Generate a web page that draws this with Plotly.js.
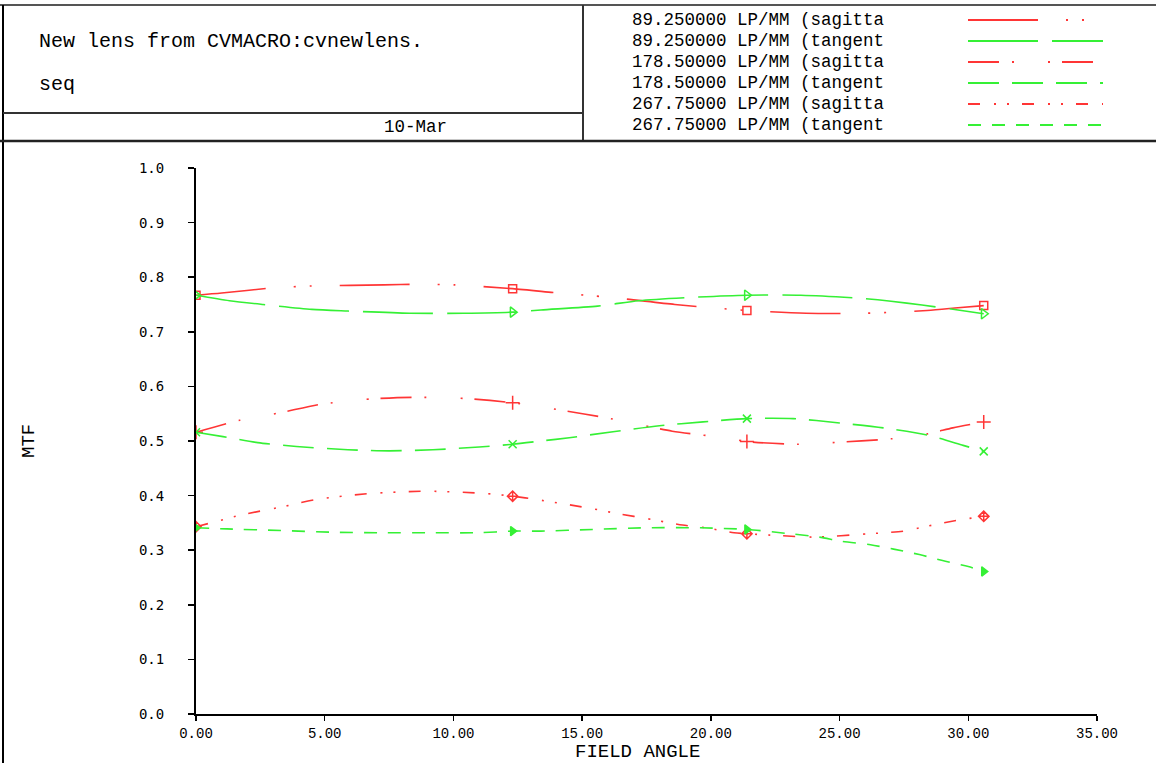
<!DOCTYPE html>
<html><head><meta charset="utf-8">
<script src="https://cdn.plot.ly/plotly-3.0.1.min.js"></script>
<style>html,body{margin:0;padding:0;background:#fff;overflow:hidden}#chart{width:1156px;height:763px}</style>
</head><body><div id="chart"></div>
<script>
// ---- data ----
const fieldX = [0, 12.3, 21.4, 30.6];

const sag89X = [0, 1.0, 2.9, 4.5, 6.0, 7.3, 8.6, 10.0, 12.3, 14.1, 15.4, 16.7, 18.6, 21.4, 23.7, 26.0, 28.4, 29.6, 30.6];
const sag89Y = [0.767, 0.771, 0.780, 0.784, 0.785, 0.786, 0.787, 0.786, 0.779, 0.771, 0.766, 0.760, 0.750, 0.739, 0.734, 0.734, 0.739, 0.744, 0.748];

const tan89X = [0, 1.3, 2.6, 4.5, 5.9, 8.3, 10.4, 12.3, 13.4, 15.6, 17.2, 19.2, 21.4, 23.5, 25.9, 27.0, 28.2, 29.6, 30.6];
const tan89Y = [0.767, 0.757, 0.750, 0.741, 0.738, 0.734, 0.734, 0.736, 0.740, 0.747, 0.757, 0.763, 0.767, 0.767, 0.761, 0.756, 0.749, 0.740, 0.733];

const sag178X = [0, 1.7, 3.3, 4.8, 6.8, 8.4, 10.4, 12.3, 14.0, 16.1, 18.5, 20.7, 21.4, 23.4, 24.7, 27.0, 28.4, 29.4, 30.6];
const sag178Y = [0.516, 0.538, 0.552, 0.567, 0.577, 0.580, 0.578, 0.570, 0.558, 0.541, 0.518, 0.505, 0.499, 0.494, 0.497, 0.504, 0.513, 0.524, 0.535];

const tan178X = [0, 1.05, 2.4, 3.9, 5.9, 7.5, 9.2, 11.0, 12.3, 13.4, 14.5, 16.2, 18.0, 19.7, 21.4, 23.2, 25.0, 26.7, 28.4, 29.8, 30.6];
const tan178Y = [0.516, 0.508, 0.497, 0.490, 0.484, 0.482, 0.484, 0.489, 0.494, 0.500, 0.506, 0.517, 0.528, 0.535, 0.541, 0.541, 0.533, 0.524, 0.511, 0.492, 0.481];

const sag267X = [0, 0.65, 1.8, 3.3, 4.7, 6.8, 9.0, 11.2, 12.3, 13.2, 15.4, 16.5, 17.5, 18.9, 19.8, 20.9, 21.4, 22.6, 24.0, 26.1, 27.5, 28.3, 29.6, 30.6];
const sag267Y = [0.343, 0.351, 0.365, 0.379, 0.393, 0.404, 0.408, 0.404, 0.399, 0.393, 0.376, 0.366, 0.358, 0.346, 0.341, 0.332, 0.330, 0.327, 0.324, 0.330, 0.335, 0.343, 0.355, 0.362];

const tan267X = [0, 1.2, 3.3, 5.2, 7.1, 9.2, 11.0, 12.3, 13.4, 15.4, 17.5, 19.6, 21.4, 23.1, 24.2, 25.1, 26.2, 27.1, 28.1, 29.0, 30.0, 30.6];
const tan267Y = [0.341, 0.339, 0.336, 0.333, 0.332, 0.332, 0.332, 0.335, 0.335, 0.338, 0.341, 0.341, 0.338, 0.330, 0.324, 0.316, 0.310, 0.302, 0.292, 0.281, 0.270, 0.261];

const legendLabels = [
  "89.250000 LP/MM (sagitta",
  "89.250000 LP/MM (tangent",
  "178.50000 LP/MM (sagitta",
  "178.50000 LP/MM (tangent",
  "267.75000 LP/MM (sagitta",
  "267.75000 LP/MM (tangent"
];
const xTickVals = [0, 5, 10, 15, 20, 25, 30, 35];
const xTickText = ["0.00", "5.00", "10.00", "15.00", "20.00", "25.00", "30.00", "35.00"];
const yTickVals = [0, 0.1, 0.2, 0.3, 0.4, 0.5, 0.6, 0.7, 0.8, 0.9, 1.0];
const yTickText = ["0.0", "0.1", "0.2", "0.3", "0.4", "0.5", "0.6", "0.7", "0.8", "0.9", "1.0"];
const titleLine1 = "New lens from CVMACRO:cvnewlens.";
const titleLine2 = "seq";
const dateText = "10-Mar";
const xTitle = "FIELD ANGLE";
const yTitle = "MTF";

// ---- styling ----
const RED = "#ff3535", GREEN = "#35f035";
const series = [
  {x: sag89X,  y: sag89Y,  color: RED,   dash: "70px,28px,2px,14px,2px,28px", sym: "square-open", size: 8},
  {x: tan89X,  y: tan89Y,  color: GREEN, dash: "70px,14px", sym: "triangle-right-open", size: 9},
  {x: sag178X, y: sag178Y, color: RED,   dash: "31px,13px,2px,34px,2px,12px", sym: "cross-thin-open", size: 10},
  {x: tan178X, y: tan178Y, color: GREEN, dash: "31px,13px", sym: "x-thin-open", size: 8},
  {x: sag267X, y: sag267Y, color: RED,   dash: "12px,14px,2px,11px,2px,13px", sym: "diamond-cross-open", size: 8},
  {x: tan267X, y: tan267Y, color: GREEN, dash: "13px,11px", sym: "triangle-right", size: 8}
];

const W = 1156, H = 763, L = 196, R = 59, T = 168, B = 49;
const PW = W - L - R, PH = H - T - B;
const px = v => (v - L) / PW;
const py = v => (H - B - v) / PH;

const traces = [];
series.forEach((s, i) => {
  traces.push({x: s.x, y: s.y, mode: "lines", type: "scatter", showlegend: false, hoverinfo: "skip",
    line: {color: s.color, width: 1.6, dash: s.dash, shape: "spline", smoothing: 0.7}});
  const mx = [], my = [];
  s.x.forEach((xv, j) => { if (fieldX.indexOf(xv) >= 0) { mx.push(xv); my.push(s.y[j]); } });
  traces.push({x: mx, y: my, mode: "markers", type: "scatter", showlegend: false, hoverinfo: "skip",
    marker: {symbol: s.sym, size: s.size, color: s.color, line: {color: s.color, width: 1.5}}});
});

const shapes = [
  {type: "line", xref: "paper", yref: "paper", x0: px(0), x1: px(W), y0: py(5), y1: py(5), line: {color: "#555", width: 2}},
  {type: "line", xref: "paper", yref: "paper", x0: px(3), x1: px(3), y0: py(5), y1: py(H), line: {color: "#000", width: 2}},
  {type: "line", xref: "paper", yref: "paper", x0: px(583), x1: px(583), y0: py(5), y1: py(141), line: {color: "#333", width: 2}},
  {type: "line", xref: "paper", yref: "paper", x0: px(3), x1: px(583), y0: py(113), y1: py(113), line: {color: "#333", width: 2}},
  {type: "line", xref: "paper", yref: "paper", x0: px(0), x1: px(W), y0: py(141), y1: py(141), line: {color: "#222", width: 2.5}}
];
const annotations = [
  {text: titleLine1, xref: "paper", yref: "paper", x: px(37), y: py(42), xanchor: "left", yanchor: "middle", showarrow: false,
   font: {family: "Liberation Mono", size: 20, color: "#000"}},
  {text: titleLine2, xref: "paper", yref: "paper", x: px(37), y: py(84), xanchor: "left", yanchor: "middle", showarrow: false,
   font: {family: "Liberation Mono", size: 20, color: "#000"}},
  {text: dateText, xref: "paper", yref: "paper", x: px(415), y: py(127), xanchor: "center", yanchor: "middle", showarrow: false,
   font: {family: "Liberation Mono", size: 17.5, color: "#000"}},
  {text: xTitle, xref: "paper", yref: "paper", x: px(637), y: py(752), xanchor: "center", yanchor: "middle", showarrow: false,
   font: {family: "Liberation Mono", size: 19, color: "#000"}, borderpad: 0},
  {text: yTitle, xref: "paper", yref: "paper", x: px(29), y: py(441), xanchor: "center", yanchor: "middle", showarrow: false,
   textangle: -90, font: {family: "Liberation Mono", size: 19, color: "#000"}}
];
legendLabels.forEach((lab, i) => {
  const yy = 20 + 21 * i;
  annotations.push({text: lab, xref: "paper", yref: "paper", x: px(630), y: py(yy), xanchor: "left", yanchor: "middle",
    showarrow: false, font: {family: "Liberation Mono", size: 17.5, color: "#000"}});
  shapes.push({type: "line", xref: "paper", yref: "paper", x0: px(968), x1: px(1103), y0: py(yy), y1: py(yy),
    line: {color: series[i].color, width: 2, dash: series[i].dash}});
});

const layout = {
  width: W, height: H,
  margin: {l: L, r: R, t: T, b: B, pad: 0},
  paper_bgcolor: "#fff", plot_bgcolor: "#fff",
  showlegend: false,
  xaxis: {range: [0, 35], tickvals: xTickVals, ticktext: xTickText, showgrid: false, zeroline: false,
    showline: true, linecolor: "#000", linewidth: 2, ticks: "outside", ticklen: 5, tickwidth: 1.5, tickcolor: "#000",
    tickfont: {family: "Liberation Mono", size: 14, color: "#000"}},
  yaxis: {range: [0, 1], tickvals: yTickVals, ticktext: yTickText, showgrid: false, zeroline: false,
    showline: true, linecolor: "#000", linewidth: 2, ticks: "outside", ticklen: 6, tickwidth: 1.5, tickcolor: "#000",
    ticklabelstandoff: 21,
    tickfont: {family: "DejaVu Sans Mono", size: 14, color: "#000"}},
  shapes: shapes,
  annotations: annotations
};
Plotly.newPlot("chart", traces, layout, {staticPlot: true, displayModeBar: false});
</script>
</body></html>
